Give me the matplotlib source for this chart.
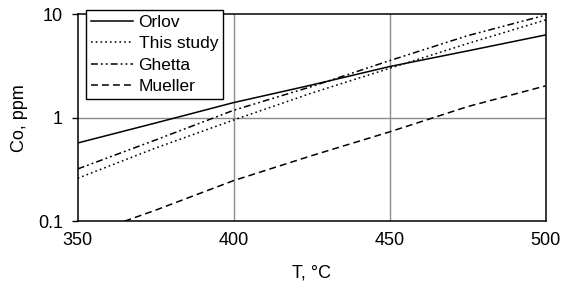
import matplotlib
matplotlib.use("Agg")
import matplotlib.pyplot as plt

plt.rcParams['font.family'] = ['Liberation Sans', 'DejaVu Sans']

# temperatures, °C
T = [350, 375, 400, 425, 450, 475, 500]
T_mueller = [365, 375, 400, 425, 450, 475, 500]

# Co, ppm
orlov = [0.57, 0.89, 1.40, 2.07, 3.12, 4.42, 6.3]
this_study = [0.26, 0.51, 0.95, 1.73, 3.0, 5.2, 8.8]
ghetta = [0.32, 0.61, 1.18, 2.0, 3.56, 6.2, 9.8]
mueller = [0.10, 0.128, 0.247, 0.43, 0.73, 1.28, 2.03]

x_ticks = [350, 400, 450, 500]
y_ticks = [0.1, 1, 10]
y_labels = ["0.1", "1", "10"]

fig = plt.figure(figsize=(5.63, 2.84), dpi=100)
ax = fig.add_axes([0.138, 0.221, 0.831, 0.729])

lw = 1.1
ax.plot(T, orlov, color="black", lw=lw, linestyle="-", label="Orlov")
ax.plot(T, this_study, color="black", lw=lw, linestyle=(0, (1.1, 2.0)), label="This study")
ax.plot(T, ghetta, color="black", lw=lw, linestyle=(0, (4.5, 2.0, 1.2, 2.0, 1.2, 2.0)), label="Ghetta")
ax.plot(T_mueller, mueller, color="black", lw=lw, linestyle=(0, (4.5, 2.7)), label="Mueller")

ax.set_yscale("log")
ax.set_xlim(350, 500)
ax.set_ylim(0.1, 10)
ax.set_xticks(x_ticks)
ax.set_yticks(y_ticks)
ax.set_yticklabels(y_labels)
ax.minorticks_off()

for v in [400, 450]:
    ax.axvline(v, color="#8c8c8c", lw=1.0, zorder=0)
ax.axhline(1, color="#8c8c8c", lw=1.0, zorder=0)

ax.tick_params(axis="x", length=0, pad=8, labelsize=13)
ax.tick_params(axis="y", direction="out", length=4.5, width=1, pad=6, labelsize=13)
for s in ax.spines.values():
    s.set_linewidth(1.1)

ax.set_xlabel("T, °C", fontsize=13, labelpad=11)
ax.set_ylabel("Co, ppm", fontsize=13, labelpad=7)

leg = ax.legend(loc="upper left", bbox_to_anchor=(86 / 563, 1 - 10 / 284),
                bbox_transform=fig.transFigure, fontsize=12.5, frameon=True,
                fancybox=False, edgecolor="black", framealpha=1,
                borderpad=0.28, labelspacing=0.36, handlelength=2.4,
                handletextpad=0.35, borderaxespad=0)
leg.get_frame().set_linewidth(1.0)

fig.savefig("out.png", dpi=100)
